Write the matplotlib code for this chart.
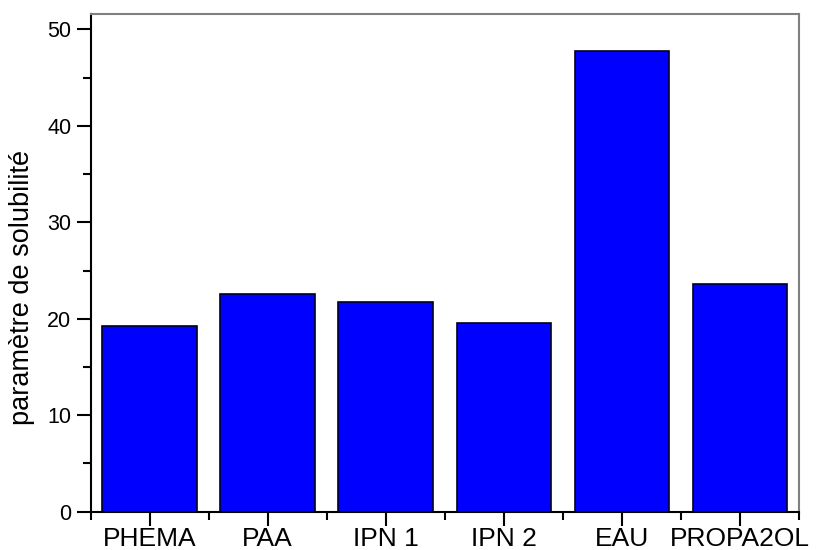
import numpy as np
import matplotlib.pyplot as plt
from matplotlib.ticker import MultipleLocator

categories = ['PHEMA', 'PAA', 'IPN 1', 'IPN 2', 'EAU', 'PROPA2OL']
solubilite = [19.3, 22.6, 21.7, 19.6, 47.8, 23.6]

plt.rcParams['font.family'] = ['Liberation Sans', 'DejaVu Sans']

fig = plt.figure(figsize=(8.16, 5.5), dpi=100)
ax = fig.add_axes([0.111, 0.0696, 0.868, 0.905])

x = np.arange(len(categories))
ax.bar(x, solubilite, width=0.8, color='#0000ff', edgecolor='#000020', linewidth=1.2)

ax.set_xlim(-0.5, len(categories) - 0.5)
ax.set_ylim(0, 51.6)
ax.set_xticks(x)
ax.set_xticklabels(categories)
ax.set_xticks(np.arange(-0.5, len(categories)), minor=True)
ax.yaxis.set_major_locator(MultipleLocator(10))
ax.yaxis.set_minor_locator(MultipleLocator(5))

ax.tick_params(which='major', direction='out', length=10, width=1.5, color='black')
ax.tick_params(which='minor', direction='out', length=6, width=1.5)
ax.tick_params(axis='y', labelsize=15.5, pad=4)
ax.tick_params(axis='x', labelsize=19, pad=1)

for s in ['left', 'bottom']:
    ax.spines[s].set_color('black')
    ax.spines[s].set_linewidth(1.5)
for s in ['top', 'right']:
    ax.spines[s].set_color('#808080')
    ax.spines[s].set_linewidth(1.5)

ax.set_ylabel('paramètre de solubilité', fontsize=19.5)
ax.yaxis.set_label_coords(-0.079, 0.45)

fig.savefig('out.png', dpi=100)
